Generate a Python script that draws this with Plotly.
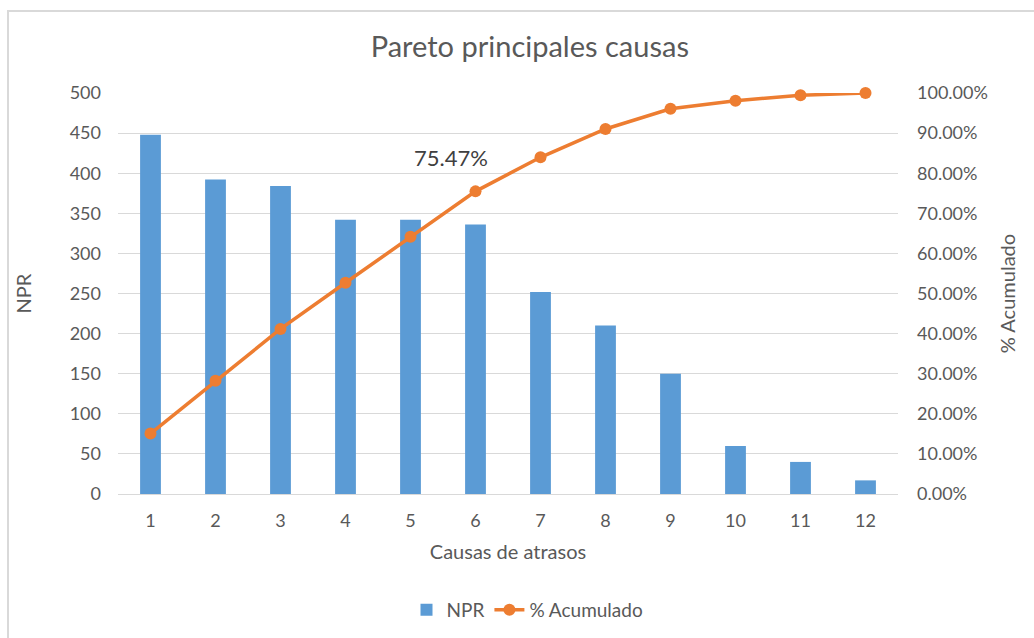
import plotly.graph_objects as go

causas = [1, 2, 3, 4, 5, 6, 7, 8, 9, 10, 11, 12]
npr = [448, 392, 384, 342, 342, 336, 252, 210, 150, 60, 40, 17]
acumulado = [0.1507, 0.2825, 0.4117, 0.5267, 0.6418, 0.7547, 0.8396, 0.9102, 0.9606, 0.9808, 0.9943, 1.0]
label_text = "75.47%"

FONT = "Lato, 'Open Sans', sans-serif"
GRAY = "#595959"

fig = go.Figure()
fig.add_trace(go.Bar(
    x=causas, y=npr, name="NPR", marker=dict(color="#5B9BD5", line=dict(width=0)),
    width=0.32, yaxis="y"))
fig.add_trace(go.Scatter(
    x=causas, y=acumulado, name="% Acumulado", mode="lines+markers",
    line=dict(color="#ED7D31", width=3.5), marker=dict(color="#ED7D31", size=12),
    cliponaxis=False, yaxis="y2"))

fig.add_annotation(x=5.63, y=0.84, xref="x", yref="y2", text=label_text, showarrow=False,
                   font=dict(family=FONT, size=22, color="#404040"))

# chart border
fig.add_shape(type="rect", xref="paper", yref="paper", x0=-0.141, x1=1.2, y0=-0.4, y1=1.2045,
              line=dict(color="#d9d9d9", width=2), fillcolor="rgba(0,0,0,0)", layer="below")

fig.update_layout(
    width=1034, height=638,
    margin=dict(l=118, r=136, t=93, b=144, autoexpand=False),
    paper_bgcolor="white", plot_bgcolor="white",
    font=dict(family=FONT, color=GRAY, size=18),
    title=dict(text="Pareto principales causas", x=0.528, xref="paper", xanchor="center",
               y=1 - 47 / 638, yref="container", yanchor="middle",
               font=dict(family=FONT, size=29, color=GRAY)),
    xaxis=dict(tickmode="array", tickvals=causas, ticktext=[str(c) for c in causas],
               range=[0.5, 12.5], showgrid=False, showline=True, linecolor="#d9d9d9", linewidth=1,
               ticks="", ticklabelstandoff=10, tickfont=dict(size=18, color=GRAY), automargin=False,
               title=dict(text="Causas de atrasos", standoff=15, font=dict(size=20, color=GRAY))),
    yaxis=dict(range=[0, 500], dtick=50, showgrid=True, gridcolor="#d9d9d9", gridwidth=1,
               zeroline=False, showline=False, ticks="", ticklabelstandoff=16,
               tickfont=dict(size=18, color=GRAY), automargin=False,
               title=dict(text="NPR", standoff=32, font=dict(size=20, color=GRAY))),
    yaxis2=dict(range=[0, 1], dtick=0.1, tickformat=".2%", overlaying="y", side="right",
                showgrid=False, zeroline=False, showline=False, ticks="", ticklabelstandoff=18,
                tickfont=dict(size=18, color=GRAY), automargin=False,
                title=dict(text="% Acumulado", standoff=14, font=dict(size=20, color=GRAY))),
    legend=dict(orientation="h", x=0.525, xanchor="center", y=-0.289, yanchor="middle",
                font=dict(size=19, color=GRAY), bgcolor="rgba(0,0,0,0)"),
    showlegend=True,
)

fig.write_html("out.html")
